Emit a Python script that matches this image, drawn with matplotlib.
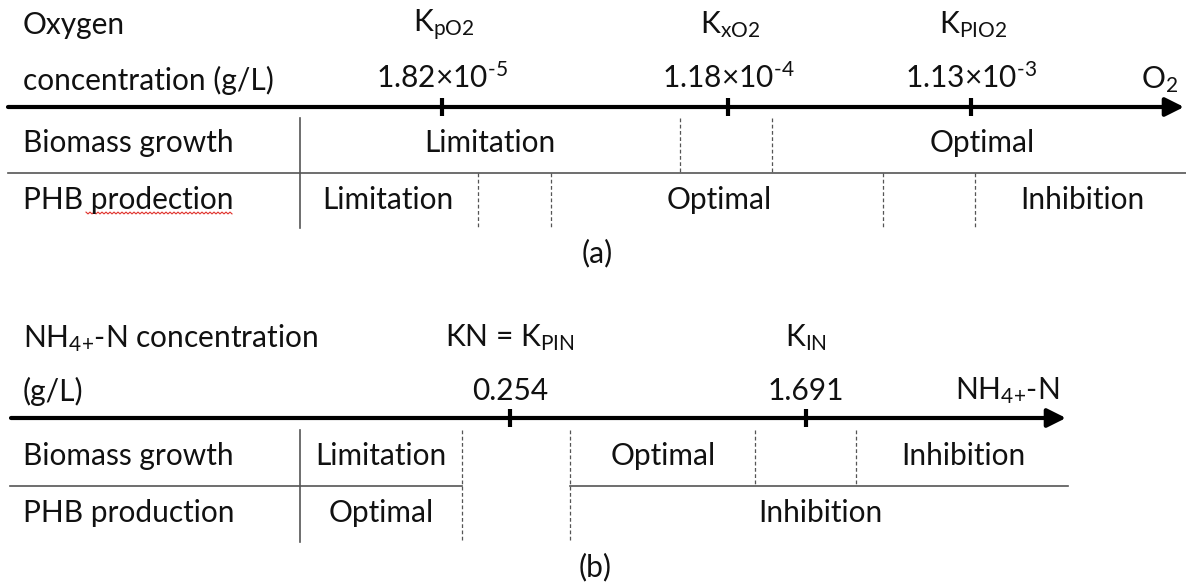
import matplotlib
matplotlib.use("Agg")
import matplotlib.pyplot as plt
import numpy as np

plt.rcParams['font.family'] = ['Lato', 'DejaVu Sans']
plt.rcParams['mathtext.fontset'] = 'custom'
plt.rcParams['mathtext.rm'] = 'Lato'
plt.rcParams['mathtext.it'] = 'Lato'
plt.rcParams['mathtext.default'] = 'regular'

# ---------------- data ----------------
a_title = ["Oxygen", "concentration (g/L)"]
a_const_names = ["K$_{pO2}$", "K$_{xO2}$", "K$_{PIO2}$"]
a_const_values = ["1.82×10$^{\\text{-5}}$", "1.18×10$^{\\text{-4}}$", "1.13×10$^{\\text{-3}}$"]
a_axis_label = "O$_2$"
a_row_names = ["Biomass growth", "PHB prodection"]
a_biomass_labels = ["Limitation", "Optimal"]
a_phb_labels = ["Limitation", "Optimal", "Inhibition"]
a_caption = "(a)"

b_title = ["NH$_{\\text{4+}}$-N concentration", "(g/L)"]
b_const_names = ["KN = K$_{PIN}$", "K$_{IN}$"]
b_const_values = ["0.254", "1.691"]
b_axis_label = "NH$_{\\text{4+}}$-N"
b_row_names = ["Biomass growth", "PHB production"]
b_biomass_labels = ["Limitation", "Optimal", "Inhibition"]
b_phb_labels = ["Optimal", "Inhibition"]
b_caption = "(b)"

# ---------------- layout (pixel space) ----------------
W, H = 1186, 582
fig = plt.figure(figsize=(W / 100, H / 100), dpi=100)
ax = fig.add_axes([0, 0, 1, 1])
ax.set_xlim(0, W)
ax.set_ylim(H, 0)
ax.axis('off')

FS = 21.5
TXT = '#111111'
LINE = '#555555'


def t(x, y, s, ha='center'):
    ax.text(x, y, s, ha=ha, va='center', fontsize=FS, color=TXT)


def axis_arrow(x0, x1, y):
    ax.annotate('', xy=(x1, y), xytext=(x0, y),
                arrowprops=dict(arrowstyle='-|>,head_length=0.8,head_width=0.4',
                                lw=3, color='black', shrinkA=0, shrinkB=0,
                                mutation_scale=14))


def tick(x, y):
    ax.plot([x, x], [y - 9, y + 9], color='black', lw=3, solid_capstyle='butt')


def vsolid(x, y0, y1):
    ax.plot([x, x], [y0, y1], color=LINE, lw=1.2)


def vdash(x, y0, y1):
    ax.plot([x, x], [y0, y1], color=LINE, lw=0.9, ls=(0, (3, 2)))


def hline(x0, x1, y):
    ax.plot([x0, x1], [y, y], color=LINE, lw=1.2)


def squiggle(x0, x1, y):
    # spell-check style wavy underline
    xs = np.arange(x0, x1 + 0.1, 2.0)
    ys = y + np.where(np.arange(len(xs)) % 2 == 0, -0.9, 0.9)
    ax.plot(xs, ys, color='#e0302a', lw=0.8)


# ----- panel (a) -----
ya1, ya2, yax, yr1, ysep, yr2, ybot, ycap = 25, 80, 107, 143, 173, 200, 228, 253
t(23, ya1, a_title[0], ha='left')
t(23, ya2, a_title[1], ha='left')
a_x = [442, 728, 971]
for x, n, v in zip(a_x, a_const_names, a_const_values):
    t(x + 2, ya1, n)
    t(x, ya2 - 2, v)
t(1160, ya2, a_axis_label)
axis_arrow(8, 1184, yax)
for x in a_x:
    tick(x, yax)
vsolid(300, 118, ybot)
hline(8, W, ysep)
t(23, yr1, a_row_names[0], ha='left')
t(23, yr2, a_row_names[1], ha='left')
squiggle(86, 232, 213)
t(490, yr1, a_biomass_labels[0])
t(982, yr1, a_biomass_labels[1])
for x in (680, 772):
    vdash(x, 118, ysep)
t(388, yr2, a_phb_labels[0])
t(719, yr2, a_phb_labels[1])
t(1082, yr2, a_phb_labels[2])
for x in (478, 551, 883, 975):
    vdash(x, ysep, ybot)
t(597, ycap, a_caption)

# ----- panel (b) -----
yb1, yb2, ybx, yq1, ysep2, yq2, ybot2, ycap2 = 338, 391, 418, 456, 486, 513, 542, 567
t(23, yb1, b_title[0], ha='left')
t(23, yb2, b_title[1], ha='left')
b_x = [510, 806]
for x, n, v in zip(b_x, b_const_names, b_const_values):
    t(x, yb1, n)
    t(x, yb2, v)
t(1007, yb2, b_axis_label)
axis_arrow(11, 1066, ybx)
for x in b_x:
    tick(x, ybx)
vsolid(300, 430, ybot2)
hline(10, 462, ysep2)
hline(570, 1068, ysep2)
t(23, yq1, b_row_names[0], ha='left')
t(23, yq2, b_row_names[1], ha='left')
t(381, yq1, b_biomass_labels[0])
t(663, yq1, b_biomass_labels[1])
t(963, yq1, b_biomass_labels[2])
t(381, yq2, b_phb_labels[0])
t(820, yq2, b_phb_labels[1])
for x in (462, 570):
    vdash(x, 430, ybot2)
for x in (755, 856):
    vdash(x, 430, ysep2)
t(595, ycap2, b_caption)

fig.savefig('out.png', dpi=100, facecolor='white')
